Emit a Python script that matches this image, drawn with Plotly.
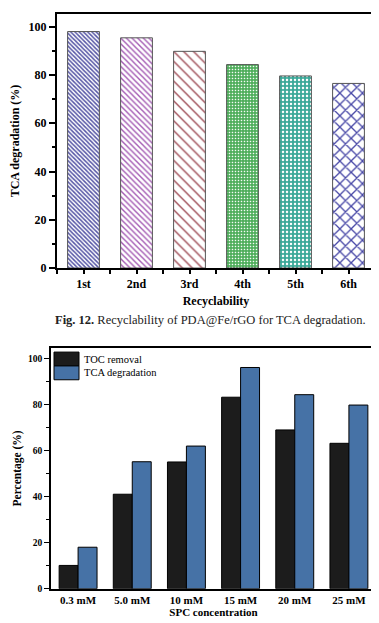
import plotly.graph_objects as go

# ---- Data: top chart (Fig. 12) ----
cycles = ["1st", "2nd", "3rd", "4th", "5th", "6th"]
tca_recycle = [98.0, 95.4, 89.8, 84.3, 79.6, 76.5]

# ---- Data: bottom chart ----
spc_conc = ["0.3 mM", "5.0 mM", "10 mM", "15 mM", "20 mM", "25 mM"]
toc_removal = [10.1, 41.0, 55.0, 83.1, 68.9, 63.1]
tca_degradation = [18.0, 55.1, 61.9, 96.0, 84.2, 79.7]

W, H = 379, 623
FONT = "Liberation Serif"

# pattern styles for the recyclability bars
pat_shape = ["\\", "\\", "\\", ".", ".", "x"]
pat_fg = ["#5555a5", "#a45cb4", "#a04e58", "#ffffff", "#ffffff", "#4646a6"]
pat_bg = ["#ffffff", "#ffffff", "#ffffff", "#4fae5c", "#3aa898", "#ffffff"]
pat_size = [3, 4, 7, 3, 4, 8]
pat_sol = [0.5, 0.35, 0.2, 0.22, 0.3, 0.3]

fig = go.Figure()

fig.add_trace(go.Bar(
    x=list(range(len(cycles))), y=tca_recycle, width=0.6,
    marker=dict(
        line=dict(color="#555555", width=1),
        pattern=dict(shape=pat_shape, fgcolor=pat_fg, bgcolor=pat_bg,
                     size=pat_size, solidity=pat_sol, fillmode="replace"),
    ),
    xaxis="x", yaxis="y", showlegend=False, name="TCA degradation",
))

fig.add_trace(go.Bar(
    x=list(range(len(spc_conc))), y=toc_removal, name="TOC removal",
    marker=dict(color="#1c1c1c", line=dict(color="#000000", width=1)),
    xaxis="x2", yaxis="y2", showlegend=False, offsetgroup="a",
))
fig.add_trace(go.Bar(
    x=list(range(len(spc_conc))), y=tca_degradation, name="TCA degradation",
    marker=dict(color="#4672a6", line=dict(color="#000000", width=1)),
    xaxis="x2", yaxis="y2", showlegend=False, offsetgroup="b",
))

def px_x(p):
    return p / W

def px_y(p):
    return 1 - p / H

tick_font_top = dict(family=FONT, size=12, color="black", weight="bold")
tick_font_bot = dict(family=FONT, size=11, color="black", weight="bold")

fig.update_layout(
    width=W, height=H,
    margin=dict(l=0, r=0, t=0, b=0),
    paper_bgcolor="white", plot_bgcolor="white",
    barmode="group", bargap=0.3, bargroupgap=0,
    font=dict(family=FONT, color="black"),
    xaxis=dict(
        domain=[px_x(49), px_x(367)], anchor="y",
        range=[-0.5, 5.5], tickvals=list(range(len(cycles))), ticktext=cycles,
        ticks="outside", ticklen=4, tickwidth=1.5, tickcolor="black",
        minor=dict(tick0=0.5, dtick=1, ticks="outside", ticklen=4, tickwidth=1.5, tickcolor="black"),
        showline=True, linewidth=2, linecolor="black", mirror=True,
        showgrid=False, zeroline=False, tickfont=tick_font_top,
        title=dict(text="Recyclability", font=dict(family=FONT, size=12, weight="bold"), standoff=6),
    ),
    yaxis=dict(
        domain=[px_y(263), px_y(6)], anchor="x",
        range=[0, 105.3], tick0=0, dtick=20,
        ticks="outside", ticklen=6, tickwidth=1.5, tickcolor="black",
        minor=dict(dtick=10, ticks="outside", ticklen=3, tickwidth=1.5, tickcolor="black"),
        showline=True, linewidth=2, linecolor="black", mirror=True,
        showgrid=False, zeroline=False, tickfont=tick_font_top,
        title=dict(text="TCA degradation (%)", font=dict(family=FONT, size=12, weight="bold"), standoff=6),
    ),
    xaxis2=dict(
        domain=[px_x(43), px_x(368)], anchor="y2",
        range=[-0.5, 5.5], tickvals=list(range(len(spc_conc))), ticktext=spc_conc,
        ticks="",
        showline=True, linewidth=1.5, linecolor="black", mirror=True,
        showgrid=False, zeroline=False, tickfont=tick_font_bot,
        title=dict(text="SPC concentration", font=dict(family=FONT, size=11, weight="bold"), standoff=2),
    ),
    yaxis2=dict(
        domain=[px_y(587.3), px_y(344)], anchor="x2",
        range=[0, 104.4], tick0=0, dtick=20,
        ticks="outside", ticklen=5, tickwidth=1.2, tickcolor="black",
        minor=dict(dtick=10, ticks="outside", ticklen=3, tickwidth=1.2, tickcolor="black"),
        showline=True, linewidth=1.5, linecolor="black", mirror=True,
        showgrid=False, zeroline=False,
        tickfont=dict(family=FONT, size=9.5, color="black", weight="bold"),
        title=dict(text="Percentage (%)", font=dict(family=FONT, size=11.5, weight="bold"), standoff=4),
    ),
)

# manual legend for the bottom chart (large swatches)
legend_items = [("TOC removal", "#1c1c1c", 348, 362), ("TCA degradation", "#4672a6", 362, 376)]
for label, col, y0, y1 in legend_items:
    fig.add_shape(type="rect", xref="paper", yref="paper",
                  x0=px_x(46), x1=px_x(71), y0=px_y(y1), y1=px_y(y0),
                  fillcolor=col, line=dict(color="black", width=1))
    fig.add_annotation(xref="paper", yref="paper", x=px_x(74), y=px_y((y0 + y1) / 2),
                       text=label, showarrow=False, xanchor="left", yanchor="middle",
                       font=dict(family=FONT, size=10.5, color="black"))

# caption
fig.add_annotation(xref="paper", yref="paper", x=px_x(202), y=px_y(315.5),
                   text="<b>Fig. 12.</b> Recyclability of PDA@Fe/rGO for TCA degradation.",
                   showarrow=False, xanchor="center", yanchor="middle",
                   font=dict(family=FONT, size=12.5, color="#222222"))

fig.write_html("out.html")
